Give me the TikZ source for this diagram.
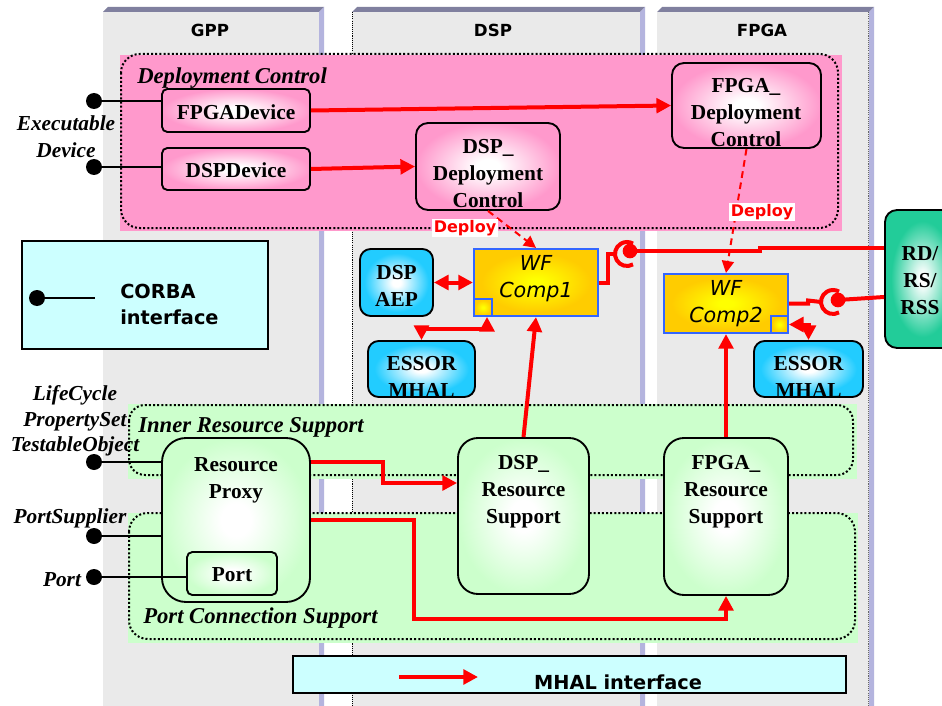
\documentclass[tikz,border=0pt]{standalone}
\usepackage{fontspec}
\setmainfont{Liberation Serif}
\setsansfont{DejaVu Sans}
\usetikzlibrary{arrows.meta,calc,fit}

% palette
\definecolor{colgray}{HTML}{EAEAEA}
\definecolor{coltop}{HTML}{80809F}
\definecolor{colside}{HTML}{B4B4DE}
\definecolor{deppink}{HTML}{FF99CC}
\definecolor{supgreen}{HTML}{CCFFCC}
\definecolor{legcyan}{HTML}{CCFFFF}
\definecolor{devcyan}{HTML}{22CCFF}
\definecolor{wfgold}{HTML}{FFCC00}
\definecolor{wfyellow}{HTML}{FFFF00}
\definecolor{wfblue}{HTML}{3366FF}
\definecolor{rdgreen}{HTML}{22CC99}
\definecolor{wirered}{HTML}{FF0000}

% soft glow fills: light centre fading to the box colour at the edges
\pgfdeclareradialshading{glowpink}{\pgfpoint{0bp}{0bp}}{color(0bp)=(white); color(4bp)=(white); color(25bp)=(deppink); color(50bp)=(deppink)}
\pgfdeclareradialshading{glowgreen}{\pgfpoint{0bp}{0bp}}{color(0bp)=(white); color(5bp)=(white); color(25bp)=(supgreen); color(50bp)=(supgreen)}
\pgfdeclareradialshading{glowcyan}{\pgfpoint{0bp}{0bp}}{color(0bp)=(white); color(3bp)=(white); color(22bp)=(devcyan); color(50bp)=(devcyan)}
\pgfdeclareradialshading{glowgold}{\pgfpoint{0bp}{0bp}}{color(0bp)=(wfyellow); color(3bp)=(wfyellow); color(22bp)=(wfgold); color(50bp)=(wfgold)}
\pgfdeclareradialshading{glowrd}{\pgfpoint{0bp}{0bp}}{color(0bp)=(white); color(2bp)=(white); color(21bp)=(rdgreen); color(50bp)=(rdgreen)}

\tikzset{
  coltitle/.style={font=\sffamily\bfseries\fontsize{12.5}{15}\selectfont},
  regionborder/.style={draw=black, line width=1.5pt, dash pattern=on 1.5pt off 1.6pt, rounded corners=14pt},
  regionlabel/.style={anchor=west, inner sep=0pt, font=\rmfamily\bfseries\itshape\fontsize{17}{20}\selectfont},
  ifacelabel/.style={align=center, inner sep=0pt, font=\rmfamily\bfseries\itshape\fontsize{16}{19}\selectfont},
  boxframe/.style={draw=black, line width=1.4pt, inner sep=0pt},
  boxtext/.style={align=center, inner sep=0pt, font=\rmfamily\bfseries\fontsize{16}{20.25}\selectfont},
  pinkbox/.style={boxframe, shading=glowpink},
  greenbox/.style={boxframe, shading=glowgreen},
  cyanbox/.style={boxframe, shading=glowcyan, rounded corners=8pt},
  wfbox/.style={draw=wfblue, line width=1.6pt, inner sep=0pt, shading=glowgold},
  wftext/.style={align=center, inner sep=0pt, font=\sffamily\itshape\fontsize{15.5}{20.25}\selectfont},
  rdbox/.style={boxframe, shading=glowrd, rounded corners=9pt},
  legendbox/.style={draw=black, line width=1.4pt, fill=legcyan, inner sep=0pt},
  legendtext/.style={inner sep=0pt, font=\sffamily\bfseries\fontsize{14.5}{19.5}\selectfont},
  lolli/.style={circle, fill=black, inner sep=0pt, minimum size=12pt},
  iface/.style={draw=black, line width=1.3pt},
  wire/.style={draw=wirered, line width=3pt},
  redball/.style={circle, fill=wirered, inner sep=0pt, minimum size=11pt},
  deploy/.style={draw=wirered, line width=1.5pt, dash pattern=on 5pt off 3.5pt, -{Triangle[length=9pt,width=9pt]}},
  deploytag/.style={fill=white, text=wirered, inner sep=1.2pt, font=\sffamily\bfseries\fontsize{12}{14}\selectfont},
}

\begin{document}
\begin{tikzpicture}[x=0.75pt, y=-0.75pt, >={Triangle[length=11pt,width=11pt]}]
\useasboundingbox (0,0) rectangle (942,706);
\fill[white] (0,0) rectangle (942,706);

% ---- processor columns (front, top bevel, side) ----
\foreach \l/\r in {103/319, 352/640, 657/869} {
  \fill[colgray] (\l,12) rectangle (\r,706);
  \fill[coltop] (\l,12) -- (\l+5,7) -- (\r+5,7) -- (\r,12) -- cycle;
  \fill[colside] (\r,12) -- (\r+5,7) -- (\r+5,706) -- (\r,706) -- cycle;
}
\draw[black, line width=0.4pt, dash pattern=on 0.8pt off 0.8pt] (352,12) -- (352,706);
\draw[black!60, line width=0.4pt, dash pattern=on 0.8pt off 0.8pt] (868,12) -- (868,706);

\node[coltitle] (gpp)  at (210,30) {GPP};
\node[coltitle] (dsp)  at (493,30) {DSP};
\node[coltitle] (fpga) at (762,30) {FPGA};

% ---- regions ----
\fill[deppink] (120,55) rectangle (842,231);
\draw[regionborder] (121,54) rectangle (838,228);
\node[regionlabel] (deplbl) at (137,78) {Deployment Control};

\fill[supgreen] (128,404) rectangle (857,479);
\draw[regionborder, rounded corners=12pt] (129,405) rectangle (853,475);
\node[regionlabel] (innerlbl) at (138,427) {Inner Resource Support};

\fill[supgreen] (128,513) rectangle (858,643);
\draw[regionborder, rounded corners=14pt] (129,513) rectangle (855,639);
\node[regionlabel] (portlbl) at (143,618) {Port Connection Support};

% ---- legends ----
\node[legendbox, fit={(22,241) (268,349)}] (corbaleg) {};
\node[legendtext, anchor=west, align=left] (corbatxt) at (120,304) {CORBA\\interface};
\node[lolli] (corbaball) at (37,298) {};
\coordinate (corbaend) at (95,298);
\draw[iface] (corbaball.center) -- (corbaend);

\node[legendbox, fit={(293,656) (846,693)}] (mhalleg) {};
\node[legendtext] (mhaltxt) at (618,682) {MHAL interface};
\coordinate (mhalfrom) at (399,677);
\coordinate (mhalto) at (478,677);
\draw[wire,->] (mhalfrom) -- (mhalto);

% ---- deployment control ----
\node[pinkbox, rounded corners=4pt, fit={(162,89) (310,132)}] (fpgadev) {};
\node[boxtext] (fpgadevtxt) at (236,112) {FPGADevice};
\node[pinkbox, rounded corners=4pt, fit={(162,148) (310,190)}] (dspdev) {};
\node[boxtext] (dspdevtxt) at (236,170) {DSPDevice};
\node[pinkbox, rounded corners=9pt, fit={(416,123) (560,210)}] (dspdc) {};
\node[boxtext] (dspdctxt) at (488,174) {DSP\_\\Deployment\\Control};
\node[pinkbox, rounded corners=9pt, fit={(672,63) (821,148)}] (fpgadc) {};
\node[boxtext] (fpgadctxt) at (746,113) {FPGA\_\\Deployment\\Control};

% ---- waveform components and services ----
\node[cyanbox, fit={(360,249) (433,316)}] (aep) {};
\node[boxtext] (aeptxt) at (396.5,286) {DSP\\AEP};
\node[cyanbox, fit={(368,341) (475,397)}] (essor1) {};
\node[boxtext] (essor1txt) at (421.5,377) {ESSOR\\MHAL};
\node[cyanbox, fit={(754,341) (863,397)}] (essor2) {};
\node[boxtext] (essor2txt) at (808.5,377) {ESSOR\\MHAL};

\node[wfbox, fit={(474,249) (598,316)}] (wf1) {};
\node[wftext] (wf1txt) at (536,279) {WF\\Comp1};
\node[wfbox, line width=1.3pt, fit={(474,299) (492,316)}] (wf1sq) {};
\node[wfbox, fit={(664,274) (788,333)}] (wf2) {};
\node[wftext] (wf2txt) at (726,304) {WF\\Comp2};
\node[wfbox, line width=1.3pt, fit={(771,316) (788,333)}] (wf2sq) {};

\node[rdbox, fit={(885,210) (960,348)}] (rd) {};
\node[boxtext] (rdtxt) at (920,281) {RD/\\RS/\\RSS};

% ---- resource support ----
\node[greenbox, rounded corners=18pt, fit={(162,438) (310,602)}] (rp) {};
\node[boxtext] (rptxt) at (236,480) {Resource\\Proxy};
\node[greenbox, rounded corners=4pt, fit={(187,552) (277,595)}] (port) {};
\node[boxtext] (porttxt) at (232,575) {Port};
\node[greenbox, rounded corners=15pt, fit={(458,438) (589,594)}] (dsprs) {};
\node[boxtext] (dsprstxt) at (523.5,492) {DSP\_\\Resource\\Support};
\node[greenbox, rounded corners=15pt, fit={(664,438) (788,595)}] (fpgars) {};
\node[boxtext] (fpgarstxt) at (726,492) {FPGA\_\\Resource\\Support};

% ---- CORBA interfaces on the left ----
\node[ifacelabel, font=\rmfamily\bfseries\itshape\fontsize{16}{20.25}\selectfont] (exelbl) at (66,137) {Executable\\Device};
\node[lolli] (bfpgadev) at (94,101) {};
\draw[iface] (bfpgadev.center) -- (bfpgadev -| fpgadev.west);
\node[lolli] (bdspdev) at (94,167) {};
\draw[iface] (bdspdev.center) -- (bdspdev -| dspdev.west);

\node[ifacelabel] (lclbl) at (75,421) {LifeCycle\\PropertySet\\TestableObject};
\node[lolli] (blc) at (94,462) {};
\draw[iface] (blc.center) -- (blc -| rp.west);
\node[ifacelabel] (pslbl) at (70,518) {PortSupplier};
\node[lolli] (bps) at (94,536) {};
\draw[iface] (bps.center) -- (bps -| rp.west);
\node[ifacelabel] (plbl) at (62,580) {Port};
\node[lolli] (bport) at (94,577) {};
\draw[iface] (bport.center) -- (bport -| port.west);

% ---- red connections ----
\draw[wire,->] (fpgadev.east) -- (fpgadc.west);
\draw[wire,->] (dspdev.east) -- (dspdc.west);
\draw[wire,<->] (aep.east) -- (wf1.west);
\draw[wire,<->] (essor1.north) |- ($(wf1sq.south)+(4,12)$) -- ($(wf1sq.south)+(4,0)$);
\draw[wire,<->] (wf2sq.east) -| (essor2.north);

\draw[wire,->] ($(rp.east)+(0,-58)$) -- ++(72,0) |- ($(dsprs.west)+(0,-33)$);
\draw[wire,->] (rp.east) -- ++(103,0) |- ($(fpgars.south)+(0,23)$) -- (fpgars.south);
\draw[wire,->] (dsprs.north) -- (wf1.south);
\draw[wire,->] (fpgars.north) -- (wf2.south);

% sockets and balls towards the radio devices
\coordinate (cup1) at (627,254);
\draw[wire] (wf1.east) -- ++(9,0) |- ($(cup1)+(-12,0)$);
\draw[wire] (cup1) ++(60:12) arc[start angle=60, end angle=300, radius=12];
\node[redball] (ball1) at (630,251) {};
\draw[wire] (ball1.center) -- ++(130,0) -- ++(0,-3) -- ($(rd.west)+(0,-31)$);

\coordinate (cup2) at (833,302);
\draw[wire] (wf2.east) -- ++(19,0) -- ++(0,-3) -- ($(cup2)+(-12,0)$);
\draw[wire] (cup2) ++(60:12) arc[start angle=60, end angle=300, radius=12];
\node[redball] (ball2) at (838,300) {};
\draw[wire] (ball2.center) -- ($(rd.west)+(0,18)$);

% deployment
\draw[deploy] (dspdc.south) -- (wf1.north);
\draw[deploy] (fpgadc.south) -- (wf2.north);
\node[deploytag] (dep1) at (465,228) {Deploy};
\node[deploytag] (dep2) at (762,212) {Deploy};
\end{tikzpicture}
\end{document}
